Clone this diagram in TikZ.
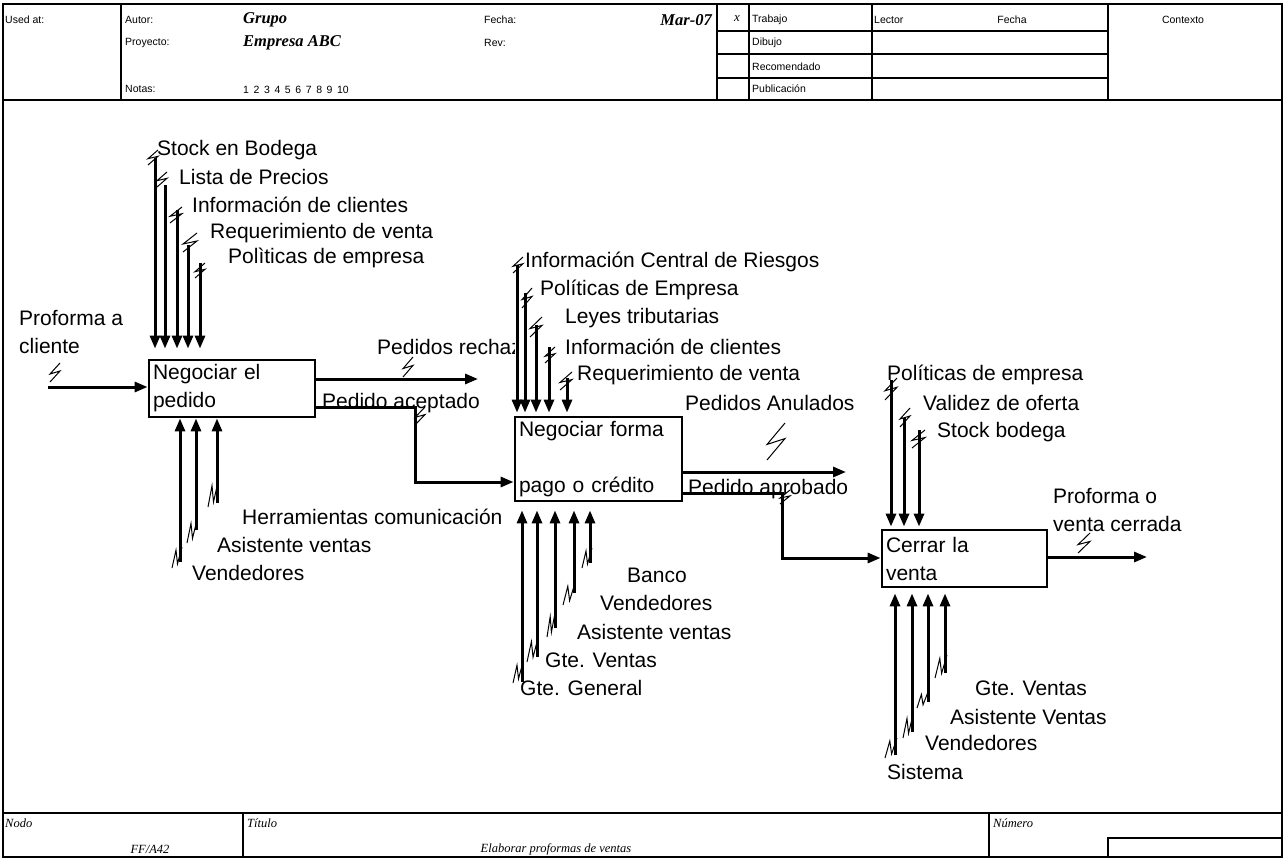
\documentclass[tikz,border=0pt]{standalone}
\usepackage{fontspec}
\newfontfamily\arial{Liberation Sans}
\newfontfamily\serifl{Liberation Serif}
\usetikzlibrary{arrows.meta}
\newcommand\lab{\arial\fontsize{21}{28}\selectfont}
\newcommand\hdr{\arial\fontsize{10.5}{12}\selectfont}
\newcommand\scr{\serifl\bfseries\itshape\fontsize{16.5}{18}\selectfont}
\newcommand\ftr{\serifl\itshape\fontsize{12.5}{14}\selectfont}
\tikzset{
  frm/.style={line width=2.8pt},
  thinfrm/.style={line width=2pt},
  box/.style={draw, line width=2.8pt, inner sep=4pt, align=left, font=\lab, text width=#1},
  arr/.style={line width=3pt, -{Triangle[length=13pt,width=10pt]}},
  lbl/.style={anchor=west, inner sep=0pt, font=\lab, align=left},
  htxt/.style={anchor=west, inner sep=0pt, font=\hdr},
  stxt/.style={anchor=west, inner sep=0pt, font=\scr},
  ftxt/.style={inner sep=0pt, font=\ftr},
  sqg/.pic={\draw[line width=1pt] (1,0) -- (0,0.58) -- (1,0.42) -- (0,1);},
  sqn/.pic={\draw[line width=1pt] (0,1) -- (0.4,0.15) -- (0.55,0.8) -- (1,0);}
}
\begin{document}
\begin{tikzpicture}[x=1pt,y=-1pt]
\useasboundingbox (0,0) rectangle (1284,858);
% frame
\draw[frm] (3,4) rectangle (1282,857);
\draw[frm] (3,100) -- (1282,100);
\draw[frm] (3,813) -- (1282,813);
\draw[frm] (121,4) -- (121,100);
\draw[frm] (717,4) -- (717,100);
\draw[frm] (749,4) -- (749,100);
\draw[frm] (872,4) -- (872,100);
\draw[frm] (1108,4) -- (1108,100);
\draw[thinfrm] (717,31) -- (1108,31);
\draw[thinfrm] (717,54) -- (1108,54);
\draw[thinfrm] (717,78) -- (1108,78);
\draw[frm] (243,813) -- (243,857);
\draw[frm] (989,813) -- (989,857);
\draw[frm] (1108,857) -- (1108,838) -- (1282,838);
% header text
\node[htxt] (h1) at (5,20) {Used at:};
\node[htxt] (h2) at (125,20) {Autor:};
\node[htxt] (h3) at (125,43) {Proyecto:};
\node[htxt] (h4) at (125,89) {Notas:};
\node[htxt] (h5) at (243,90) {{\spaceskip=4.6pt 1 2 3 4 5 6 7 8 9 10}};
\node[stxt] (h6) at (243,20) {Grupo};
\node[stxt] (h7) at (243,43) {Empresa ABC};
\node[htxt] (h8) at (484,20) {Fecha:};
\node[htxt] (h9) at (484,43) {Rev:};
\node[stxt, anchor=east] (h10) at (712,20) {Mar-07};
\node[inner sep=0pt, font=\serifl\itshape\fontsize{13}{15}\selectfont] (h11) at (737,19) {x};
\node[htxt] (h12) at (752,20) {Trabajo};
\node[htxt] (h13) at (752,43) {Dibujo};
\node[htxt] (h14) at (752,67) {Recomendado};
\node[htxt] (h15) at (752,89) {Publicación};
\node[htxt] (h16) at (874,20) {Lector};
\node[htxt, anchor=center] (h17) at (1012,20) {Fecha};
\node[htxt, anchor=center] (h18) at (1183,20) {Contexto};
% footer text
\node[ftxt, anchor=west] (f1) at (5,823) {Nodo};
\node[ftxt] (f2) at (150,849) {FF/A42};
\node[ftxt, anchor=west] (f3) at (247,823) {Título};
\node[ftxt] (f4) at (556,849) {Elaborar proformas de ventas};
\node[ftxt, anchor=west] (f5) at (993,823) {Número};
% boxes
\node[box=158pt, minimum width=166pt, minimum height=57pt] (A1) at (232,388.5) {Negociar el\\pedido};
\node[box=159pt, minimum width=167pt, minimum height=84pt] (A2) at (598.5,459) {Negociar forma\\\mbox{}\\pago o crédito};
\node[box=157pt, minimum width=165pt, minimum height=57pt] (A3) at (964.5,558.5) {Cerrar la\\venta};
% A1 input
\coordinate (i1) at (48,387);
\draw[arr] (i1) -- (i1 -| A1.west);
\node[lbl] (Lprof) at (19,332.5) {Proforma a\\cliente};
\pic[xscale=10,yscale=19] at (50,363) {sqg};
% A1 controls
\coordinate (c11) at (155,158);
\coordinate (c12) at (165,185);
\coordinate (c13) at (177,210);
\coordinate (c14) at (188,245);
\coordinate (c15) at (200,263);
\foreach \n in {c11,c12,c13,c14,c15} \draw[arr, shorten >=10pt] (\n) -- (\n |- A1.north);
\node[lbl] (L11) at (157,150) {Stock en Bodega};
\node[lbl] (L12) at (179,177) {Lista de Precios};
\node[lbl] (L13) at (192,205) {Información de clientes};
\node[lbl] (L14) at (210,233) {Requerimiento de venta};
\node[lbl] (L15) at (228,258) {Polìticas de empresa};
\pic[xscale=10,yscale=15] at (148,150) {sqg};
\pic[xscale=10,yscale=15] at (157,172) {sqg};
\pic[xscale=12,yscale=16] at (170,207) {sqg};
\pic[xscale=14,yscale=19] at (183,233) {sqg};
\pic[xscale=10,yscale=15] at (195,263) {sqg};
% A1 outputs
\coordinate (o1) at (478,379);
\draw[arr] (o1 -| A1.east) -- (o1);
\begin{scope}
\clip (370,320) rectangle (514,370);
\node[lbl] (Lrech) at (377,347) {Pedidos rechazados};
\end{scope}
\pic[xscale=10,yscale=20] at (403,357) {sqg};
\coordinate (k1) at (415,407);
\coordinate (k2) at (415,482);
\draw[arr] (k1 -| A1.east) -- (k1) -- (k2) -- (k2 -| A2.west);
\node[lbl] (Lacep) at (322,403) {Pedido aceptado};
\pic[xscale=10,yscale=18] at (415,407) {sqg};
% A1 mechanisms
\coordinate (m11) at (180,562);
\coordinate (m12) at (196,530);
\coordinate (m13) at (217,503);
\foreach \n in {m11,m12,m13} \draw[arr] (\n) -- (\n |- A1.south);
\node[lbl] (L16) at (242,517) {Herramientas comunicación};
\node[lbl] (L17) at (217,545) {Asistente ventas};
\node[lbl] (L18) at (192,573) {Vendedores};
\pic[xscale=10,yscale=25] at (208,482) {sqn};
\pic[xscale=10,yscale=23] at (187,520) {sqn};
\pic[xscale=10,yscale=21] at (172,547) {sqn};
% A2 controls
\coordinate (c21) at (517,265);
\coordinate (c22) at (525,293);
\coordinate (c23) at (536,325);
\coordinate (c24) at (549,347);
\coordinate (c25) at (567,378);
\foreach \n in {c21,c22,c23,c24,c25} \draw[arr, shorten >=3pt] (\n) -- (\n |- A2.north);
\node[lbl] (L21) at (525,262) {Información Central de Riesgos};
\node[lbl] (L22) at (540,290) {Políticas de Empresa};
\node[lbl] (L23) at (565,318) {Leyes tributarias};
\node[lbl] (L24) at (565,347) {Información de clientes};
\node[lbl] (L25) at (577,375) {Requerimiento de venta};
\pic[xscale=10,yscale=16] at (513,257) {sqg};
\pic[xscale=10,yscale=20] at (522,288) {sqg};
\pic[xscale=12,yscale=20] at (530,317) {sqg};
\pic[xscale=10,yscale=16] at (545,347) {sqg};
\pic[xscale=12,yscale=18] at (560,372) {sqg};
% A2 outputs
\coordinate (o2) at (846,472);
\draw[arr] (o2 -| A2.east) -- (o2);
\node[lbl] (Lanul) at (685,403) {Pedidos Anulados};
\pic[xscale=18,yscale=37] at (767,423) {sqg};
\coordinate (k3) at (782,493);
\coordinate (k4) at (782,558);
\draw[arr] (k3 -| A2.east) -- (k3) -- (k4) -- (k4 -| A3.west);
\node[lbl] (Laprob) at (688,489) {Pedido aprobado};
\pic[xscale=10,yscale=14] at (780,490) {sqg};
% A2 mechanisms
\coordinate (m21) at (522,682);
\coordinate (m22) at (537,657);
\coordinate (m23) at (555,628);
\coordinate (m24) at (574,593);
\coordinate (m25) at (590,563);
\foreach \n in {m21,m22,m23,m24,m25} \draw[arr, shorten >=8pt] (\n) -- (\n |- A2.south);
\node[lbl] (L26) at (627,575) {Banco};
\node[lbl] (L27) at (600,603) {Vendedores};
\node[lbl] (L28) at (577,632) {Asistente ventas};
\node[lbl] (L29) at (545,660) {Gte. Ventas};
\node[lbl] (L20) at (520,688) {Gte. General};
\pic[xscale=10,yscale=20] at (582,548) {sqn};
\pic[xscale=12,yscale=22] at (563,583) {sqn};
\pic[xscale=8,yscale=24] at (547,613) {sqn};
\pic[xscale=11,yscale=24] at (527,638) {sqn};
\pic[xscale=10,yscale=21] at (513,662) {sqn};
% A3 controls
\coordinate (c31) at (891,380);
\coordinate (c32) at (904,418);
\coordinate (c33) at (919,430);
\foreach \n in {c31,c32,c33} \draw[arr, shorten >=2pt] (\n) -- (\n |- A3.north);
\node[lbl] (L31) at (887,375) {Políticas de empresa};
\node[lbl] (L32) at (923,403) {Validez de oferta};
\node[lbl] (L33) at (937,432) {Stock bodega};
\pic[xscale=12,yscale=22] at (885,378) {sqg};
\pic[xscale=10,yscale=19] at (900,408) {sqg};
\pic[xscale=13,yscale=18] at (912,430) {sqg};
% A3 output
\coordinate (o3) at (1147,557);
\draw[arr] (o3 -| A3.east) -- (o3);
\node[lbl] (Lfin) at (1053,510) {Proforma o\\venta cerrada};
\pic[xscale=12,yscale=20] at (1078,533) {sqg};
% A3 mechanisms
\coordinate (m31) at (895,755);
\coordinate (m32) at (912,732);
\coordinate (m33) at (928,702);
\coordinate (m34) at (945,673);
\foreach \n in {m31,m32,m33,m34} \draw[arr, shorten >=5pt] (\n) -- (\n |- A3.south);
\node[lbl] (L34) at (975,688) {Gte. Ventas};
\node[lbl] (L35) at (950,717) {Asistente Ventas};
\node[lbl] (L36) at (925,743) {Vendedores};
\node[lbl] (L37) at (887,772) {Sistema};
\pic[xscale=12,yscale=23] at (935,655) {sqn};
\pic[xscale=11,yscale=16] at (917,692) {sqn};
\pic[xscale=10,yscale=23] at (903,715) {sqn};
\pic[xscale=12,yscale=20] at (885,738) {sqn};
\end{tikzpicture}
\end{document}
